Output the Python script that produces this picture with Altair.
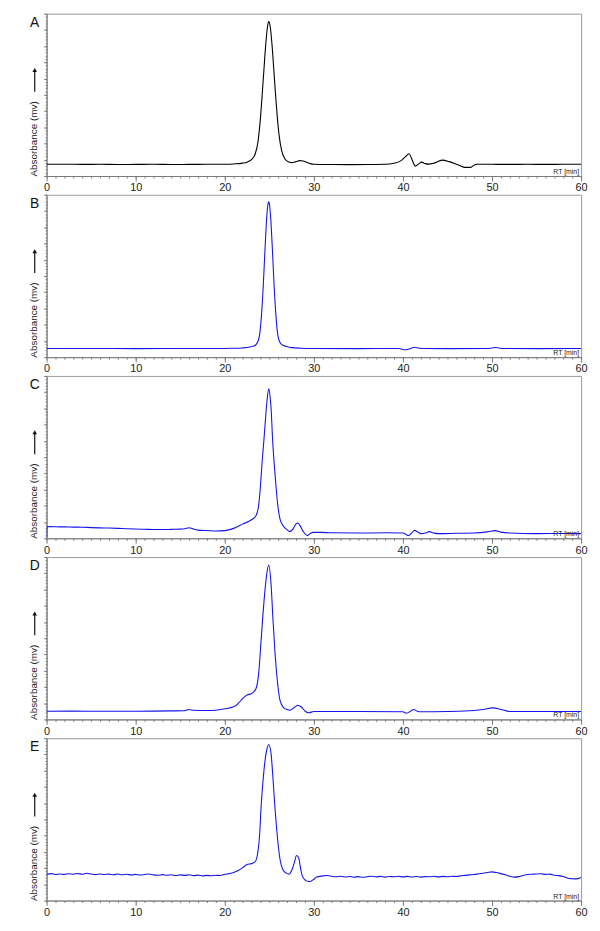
import altair as alt
import pandas as pd

# ---------------- data ----------------
panel_letters = ["A", "B", "C", "D", "E"]
line_colors = ["#000000", "#1414f0", "#1414f0", "#1414f0", "#1414f0"]

rt_A = [0, 2, 4, 6, 8, 10, 12, 14, 16, 18, 20, 21, 22, 22.5, 23, 23.4, 23.7, 24.0, 24.2, 24.4,
        24.6, 24.8, 24.93, 25.1, 25.3, 25.5, 25.7, 25.9, 26.1, 26.4, 26.7, 27.0, 27.5, 28.0, 28.4,
        28.8, 29.2, 29.6, 30, 32, 34, 36, 38, 39, 39.8, 40.4, 40.7, 41.0, 41.4, 41.8, 42.1, 42.5,
        42.9, 43.5, 44.4, 45.2, 46, 46.5, 46.9, 47.6, 48.0, 48.3, 50, 52, 54, 56, 58, 60]
ab_A = [11.8, 11.9, 11.7, 11.8, 11.6, 11.7, 11.8, 11.6, 11.7, 11.8, 11.9, 12.2, 13, 14, 16.5, 22,
        33, 58, 82, 108, 133, 151, 156, 151, 133, 108, 82, 59, 41, 25, 18, 15, 13.5, 14.5, 15.5,
        15.2, 13.8, 12.5, 11.9, 11.6, 11.5, 11.6, 11.8, 12.8, 15.5, 20.5, 22.5, 17, 10, 12.5, 14,
        12.5, 12, 13, 16, 14.5, 11.8, 10, 8.7, 8.7, 11, 11.9, 11.8, 11.7, 11.8, 11.7, 11.8, 11.8]

rt_B = [0, 5, 10, 15, 20, 21, 21.93, 22.93, 23.43, 23.73, 23.93, 24.13, 24.33, 24.53, 24.73,
        24.83, 24.93, 25.03, 25.13, 25.33, 25.53, 25.73, 25.93, 26.13, 26.43, 26.93, 27.5, 28.5,
        30, 35, 39.5, 40.3, 40.8, 41.3, 41.8, 42.5, 45, 49.5, 50.4, 51.2, 55, 60]
ab_B = [8.7, 8.8, 8.6, 8.7, 8.8, 9.0, 9.3, 10.5, 12, 16, 23.7, 43.7, 73.7, 111.7, 143.7, 153.4,
        157, 153.4, 143.7, 111.7, 73.7, 43.7, 23.7, 16, 12.5, 10.8, 9.6, 9.0, 8.7, 8.6, 8.7, 7.4,
        8.5, 10, 9.0, 8.7, 8.6, 8.7, 9.8, 8.7, 8.6, 8.7]

rt_C = [0, 0.05, 0.5, 1, 2, 3, 4, 5, 6, 7, 8, 9, 10, 11, 12, 13, 14, 15, 15.5, 16, 16.4, 17, 18,
        19, 20, 21, 22, 23, 23.5, 23.8, 24.0, 24.2, 24.4, 24.6, 24.75, 24.93, 25.1, 25.19, 25.37,
        25.63, 25.96, 26.2, 26.55, 27.0, 27.3, 27.7, 28.0, 28.2, 28.4, 28.8, 29.26, 29.6, 29.9,
        30.8, 32, 35, 38, 40, 40.6, 41.0, 41.3, 41.7, 42, 42.5, 42.96, 43.5, 44, 46, 48, 49.5,
        50.37, 51, 52, 55, 58, 60]
ab_C = [1, 11.7, 11.8, 11.6, 11.5, 11.3, 11.2, 10.8, 10.5, 10.3, 10.0, 9.6, 9.3, 9.1, 8.9, 8.8,
        9.0, 9.2, 9.6, 10.7, 9.5, 8.2, 7.8, 7.3, 7.7, 10, 14.3, 18.7, 22.7, 33, 52, 78, 100, 124,
        140, 151, 142, 132.7, 99.3, 66, 32.7, 19.3, 12.7, 8.5, 6.7, 10, 14.5, 15.5, 13.5, 7, 2.7,
        4.8, 6, 6, 5.5, 5.3, 5.5, 5.3, 2.7, 5.5, 8, 6, 4.7, 5.3, 6.7, 5.2, 4.7, 5, 5.3, 6.5, 7.7,
        6.2, 5.3, 4.7, 4.8, 4.7]

rt_D = [0, 3, 6, 9, 12, 14, 15.5, 16, 16.5, 18, 19, 20, 21, 21.5, 22, 22.5, 23, 23.5, 23.8, 24.1,
        24.4, 24.7, 24.93, 25.2, 25.4, 25.6, 25.9, 26.2, 26.6, 27.0, 27.3, 27.8, 28.2, 28.6, 29.0,
        29.4, 30, 35, 40, 40.4, 40.8, 41.2, 41.6, 42, 45, 48, 49, 50.1, 51, 52, 55, 60]
ab_D = [8.3, 8.4, 8.2, 8.3, 8.4, 8.6, 8.8, 10, 9.2, 9, 9.3, 10.7, 12.7, 16, 21, 24.7, 26, 31, 46,
        82.7, 119, 146, 156, 136, 102.7, 72.7, 39.3, 19.3, 12, 10, 9.3, 12, 14.3, 12.5, 8.5, 6.7,
        8, 8, 7.7, 6.3, 8, 10, 8.3, 7.7, 8, 9, 10, 11.7, 10, 8, 8, 8]

rt_E = [0, 0.5, 1, 1.5, 2, 2.5, 3, 3.5, 4, 4.5, 5, 5.5, 6, 6.5, 7, 7.5, 8, 8.5, 9, 9.5, 10, 10.5,
        11, 11.5, 12, 12.5, 13, 13.5, 14, 14.5, 15, 15.5, 16, 16.5, 17, 17.5, 18, 18.5, 19, 19.5,
        20, 20.5, 21, 21.5, 22, 22.5, 23, 23.4, 23.7, 23.9, 24.1, 24.4, 24.7, 24.93, 25.2, 25.4,
        25.6, 25.9, 26.2, 26.5, 26.9, 27.2, 27.5, 27.8, 28.05, 28.3, 28.5, 28.7, 29.0, 29.3, 29.6,
        30.0, 30.3, 30.6, 31, 31.5, 32, 32.5, 33, 33.5, 34, 34.5, 35, 35.5, 36, 36.5, 37, 37.5, 38,
        38.5, 39, 39.5, 40, 40.5, 41, 41.5, 42, 42.5, 43, 43.5, 44, 44.5, 45, 45.5, 46, 46.5, 47,
        47.5, 48, 48.5, 49, 49.5, 50, 50.5, 51, 51.5, 52, 52.5, 53, 53.5, 54, 54.5, 55, 55.5, 56,
        56.5, 57, 57.5, 58, 58.5, 59, 59.5, 60]
ab_E = [26.5, 27.2, 26.3, 26.9, 26.4, 27.1, 26.6, 27.4, 26.5, 27.6, 26.8, 26.2, 26.9, 26.3, 26.7,
        26.1, 26.8, 26.0, 26.5, 25.9, 26.4, 25.8, 26.3, 26.9, 25.9, 25.6, 26.2, 25.5, 26.0, 25.3,
        25.9, 25.4, 26.0, 25.2, 25.7, 24.9, 25.4, 25.0, 25.6, 25.3, 26.5,
        27.2, 28.3, 30.3, 33.3, 36.3, 37.3, 39, 48.3, 65, 98, 131.7, 151.7, 157.7, 148, 125, 98,
        65, 41.7, 31.7, 27.7, 26.7, 30, 38, 45.5, 43, 33, 25, 21, 19.5, 19.3, 21.5, 23.8, 24.3,
        24.9, 25.3,
        24.5, 24.0, 24.6, 23.8, 24.3, 23.6, 24.2, 23.5, 24.1, 24.6, 23.9, 24.4, 23.7, 24.3, 24.0,
        24.5, 23.9, 24.4, 23.8, 24.3, 23.7, 24.2, 24.0, 24.5, 23.9, 24.4, 24.0, 24.6, 24.3, 25.0,
        25.4, 25.9, 26.3, 27.0, 27.6, 28.4, 29.0, 28.3, 27.2, 26.0, 24.6, 23.7, 24.2, 25.4, 26.3,
        26.6, 26.9, 27.0, 26.4, 26.7, 25.6, 25.2, 24.3, 22.6, 22.1, 21.9, 23.3]

x_labels = [0, 10, 20, 30, 40, 50, 60]
y_title = "Absorbance (mv)"
x_unit = "RT [min]"

# ---------------- layout ----------------
W, H = 540, 164
AXIS_GREY = "#7a7a7a"
FONT = "Liberation Sans"

major_y = [H * i / 10 for i in range(11)]
minor_y = [H * i / 50 for i in range(51)]
minor_x = list(range(0, 61))


def panel(letter, rts, vals, color):
    df = pd.DataFrame({"rt": rts, "ab": vals})
    xs = alt.Scale(domain=[0, 60], nice=False, zero=False)
    ys = alt.Scale(domain=[0, H], nice=False, zero=False)

    line = alt.Chart(df).mark_line(
        color=color, strokeWidth=1.1, interpolate="monotone", clip=True
    ).encode(
        x=alt.X("rt:Q", scale=xs, axis=alt.Axis(
            orient="bottom", values=x_labels, tickSize=5, title=None, grid=False,
            labelFontSize=11, labelFont=FONT, labelColor="#222", labelPadding=1,
            labelFlush=False, domainColor=AXIS_GREY, tickColor=AXIS_GREY)),
        y=alt.Y("ab:Q", scale=ys, axis=alt.Axis(
            orient="left", values=major_y, tickSize=3, labels=False, grid=False,
            title=y_title, titleAnchor="start", titlePadding=5, titleFontSize=10,
            titleFont=FONT, titleFontWeight="normal", titleColor="#222",
            domainColor=AXIS_GREY, tickColor=AXIS_GREY)),
    )

    minor = alt.Chart(df).mark_line(opacity=0).encode(
        x=alt.X("rt:Q", scale=xs, axis=alt.Axis(
            orient="bottom", values=minor_x, tickSize=2, labels=False, domain=False,
            title=None, grid=False, tickColor=AXIS_GREY)),
        y=alt.Y("ab:Q", scale=ys, axis=alt.Axis(
            orient="left", values=minor_y, tickSize=1.5, labels=False, domain=False,
            title=None, grid=False, tickColor=AXIS_GREY)),
    )

    lab = pd.DataFrame({"t": [letter]})
    letter_mark = alt.Chart(lab).mark_text(
        fontSize=14, font=FONT, align="center", baseline="top", color="#111"
    ).encode(text="t:N", x=alt.value(-12), y=alt.value(2))

    unit = pd.DataFrame({"t": [x_unit]})
    unit_mark = alt.Chart(unit).mark_text(
        fontSize=7, font=FONT, align="right", baseline="bottom", color="#222"
    ).encode(text="t:N", x=alt.value(W - 2), y=alt.value(H - 1))

    arrow_df = pd.DataFrame({"k": [1]})
    shaft = alt.Chart(arrow_df).mark_rule(color="#111", strokeWidth=1.2).encode(
        x=alt.value(-12), y=alt.value(58), y2=alt.value(79))
    head = alt.Chart(arrow_df).mark_point(
        shape="triangle-up", filled=True, color="#111", size=22, opacity=1
    ).encode(x=alt.value(-12), y=alt.value(57))

    return alt.layer(line, minor, letter_mark, unit_mark, shaft, head).resolve_axis(
        x="independent", y="independent"
    ).properties(width=W, height=H)


panels = [panel(l, r, v, c) for l, r, v, c in zip(
    panel_letters, [rt_A, rt_B, rt_C, rt_D, rt_E], [ab_A, ab_B, ab_C, ab_D, ab_E], line_colors)]

chart = alt.vconcat(*panels, spacing=19, bounds="flush").properties(
    padding={"left": 20, "top": 0, "right": 4, "bottom": 4}
).configure_view(stroke="#9a9a9a", strokeWidth=1)

chart.save("out.html", embed_options={"renderer": "svg", "actions": False})
